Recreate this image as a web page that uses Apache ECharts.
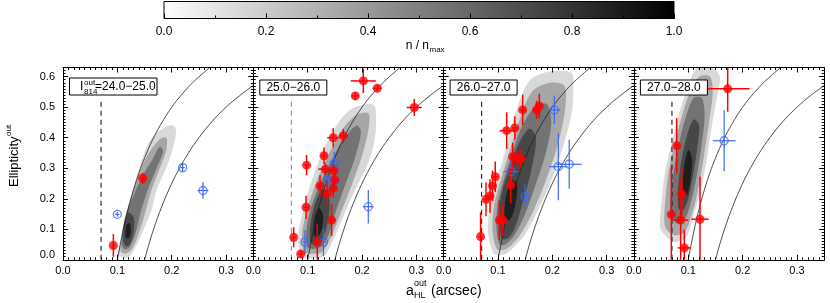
<!DOCTYPE html>
<html><head><meta charset="utf-8">
<script src="https://cdn.jsdelivr.net/npm/echarts@6/dist/echarts.min.js"></script>
<style>html,body{margin:0;padding:0;background:#fff}#c{width:830px;height:303px}</style>
</head><body><div id="c"></div>
<script>
// ---------------- data ----------------
const panelLabels = ['24.0\u221225.0', '25.0\u221226.0', '26.0\u221227.0', '27.0\u221228.0'];
const xTickLabels = ['0.0', '0.1', '0.2', '0.3'];
const yTickLabels = ['0.0', '0.1', '0.2', '0.3', '0.4', '0.5', '0.6'];
const colorbarTickLabels = ['0.0', '0.2', '0.4', '0.6', '0.8', '1.0'];

// red detections per panel: [a, e, a_err, e_err]
const red1 = [[0.0926,0.047,0.003,0.037],[0.1466,0.267,0.004,0.018]];
const red2 = [
  [0.2023,0.586,0.023,0.040],[0.228,0.562,0.008,0.010],[0.1876,0.537,0.006,0.012],
  [0.296,0.499,0.014,0.028],[0.147,0.400,0.011,0.031],[0.1655,0.406,0.008,0.023],
  [0.098,0.310,0.005,0.033],[0.130,0.341,0.005,0.027],[0.1325,0.297,0.013,0.020],
  [0.1484,0.292,0.006,0.020],[0.1227,0.242,0.005,0.035],[0.136,0.216,0.005,0.038],
  [0.147,0.234,0.006,0.030],[0.150,0.262,0.006,0.020],[0.097,0.172,0.005,0.038],
  [0.144,0.130,0.006,0.052],[0.0743,0.074,0.004,0.033],[0.1177,0.058,0.006,0.060],
  [0.0872,0.019,0.004,0.010]];
const red3 = [
  [0.176,0.504,0.005,0.040],[0.171,0.491,0.006,0.030],[0.1455,0.491,0.005,0.050],
  [0.116,0.423,0.013,0.060],[0.131,0.432,0.005,0.038],[0.127,0.338,0.005,0.045],
  [0.1356,0.331,0.005,0.030],[0.142,0.330,0.011,0.030],[0.095,0.272,0.005,0.050],
  [0.090,0.242,0.005,0.050],[0.0853,0.209,0.005,0.055],[0.078,0.198,0.005,0.055],
  [0.1234,0.245,0.005,0.060],[0.1025,0.130,0.005,0.065],[0.1087,0.130,0.010,0.050],
  [0.068,0.076,0.004,0.080]];
const red4 = [
  [0.1725,0.560,0.040,0.075],[0.0787,0.374,0.004,0.090],[0.088,0.216,0.008,0.085],
  [0.0688,0.148,0.004,0.150],[0.086,0.130,0.014,0.135],[0.1216,0.133,0.016,0.140],
  [0.0927,0.039,0.012,0.060]];

// blue (open circles) per panel: [a, e, a_err, e_err]
const blue1 = [[0.0999,0.149,0.004,0.008],[0.220,0.302,0.004,0.015],[0.2575,0.227,0.010,0.027]];
const blue2 = [
  [0.149,0.316,0.006,0.038],[0.137,0.262,0.008,0.015],[0.149,0.258,0.008,0.015],
  [0.2115,0.174,0.010,0.055],[0.095,0.058,0.004,0.040],[0.129,0.058,0.005,0.045]];
const blue3 = [
  [0.2036,0.491,0.011,0.047],[0.124,0.289,0.014,0.050],[0.1497,0.207,0.005,0.044],
  [0.211,0.305,0.017,0.110],[0.231,0.313,0.023,0.080]];
const blue4 = [[0.166,0.390,0.021,0.100]];

// size-limit curves (a, e)
const curveInner = [[0.100,0.000],[0.110,0.091],[0.120,0.167],[0.130,0.231],[0.140,0.286],[0.150,0.333],
  [0.165,0.394],[0.180,0.444],[0.200,0.500],[0.220,0.545],[0.240,0.583],[0.270,0.630]];
const curveOuter = [[0.150,0.000],[0.160,0.063],[0.170,0.118],[0.180,0.167],[0.195,0.231],[0.210,0.286],
  [0.230,0.348],[0.250,0.400],[0.275,0.455],[0.300,0.500],[0.325,0.538],[0.350,0.571]];

// completeness limit (vertical dashed line)
const limitA = 0.07;
const limitTop = 0.52;

// density contour levels (n/nmax) and their outlines per panel (a, e)
const densityLevels = [0.15, 0.35, 0.55, 0.72, 0.88];
const density1 = [
  [[0.102,0.016],[0.106,0.065],[0.112,0.13],[0.123,0.196],[0.132,0.251],[0.145,0.327],[0.157,0.382],[0.175,0.42],[0.2,0.442],[0.208,0.426],[0.203,0.371],[0.191,0.305],[0.172,0.229],[0.163,0.163],[0.148,0.098],[0.132,0.038],[0.12,0.008]],
  [[0.106,0.03],[0.109,0.08],[0.116,0.15],[0.128,0.22],[0.142,0.29],[0.158,0.35],[0.178,0.395],[0.19,0.4],[0.19,0.36],[0.178,0.3],[0.162,0.225],[0.152,0.16],[0.14,0.09],[0.127,0.035],[0.115,0.02]],
  [[0.108,0.05],[0.111,0.11],[0.12,0.17],[0.132,0.22],[0.148,0.28],[0.165,0.33],[0.178,0.37],[0.184,0.355],[0.172,0.3],[0.155,0.225],[0.142,0.15],[0.133,0.085],[0.122,0.04],[0.113,0.035]],
  [[0.111,0.06],[0.113,0.12],[0.12,0.155],[0.13,0.14],[0.13,0.09],[0.123,0.05],[0.116,0.045]],
  [[0.115,0.075],[0.117,0.115],[0.123,0.12],[0.125,0.09],[0.12,0.07]]];
const density2 = [
  [[0.086,0.016],[0.083,0.087],[0.092,0.164],[0.11,0.273],[0.135,0.382],[0.16,0.458],[0.184,0.497],[0.221,0.508],[0.226,0.458],[0.222,0.382],[0.2085,0.305],[0.184,0.218],[0.1655,0.141],[0.147,0.065],[0.129,0.01],[0.098,0.005]],
  [[0.092,0.03],[0.09,0.09],[0.1,0.17],[0.117,0.26],[0.14,0.35],[0.165,0.43],[0.19,0.475],[0.212,0.48],[0.212,0.43],[0.2,0.34],[0.18,0.24],[0.16,0.15],[0.142,0.07],[0.126,0.025],[0.105,0.02]],
  [[0.1,0.04],[0.098,0.1],[0.108,0.18],[0.123,0.25],[0.145,0.33],[0.168,0.4],[0.19,0.44],[0.198,0.42],[0.188,0.34],[0.17,0.25],[0.152,0.16],[0.138,0.08],[0.122,0.04]],
  [[0.106,0.055],[0.105,0.11],[0.113,0.18],[0.126,0.23],[0.138,0.22],[0.14,0.16],[0.132,0.09],[0.12,0.05]],
  [[0.112,0.08],[0.112,0.13],[0.12,0.17],[0.128,0.15],[0.126,0.1],[0.118,0.075]]];
const density3 = [
  [[0.0915,0.021],[0.082,0.087],[0.085,0.174],[0.098,0.262],[0.116,0.371],[0.134,0.491],[0.159,0.589],[0.196,0.617],[0.2355,0.611],[0.2386,0.557],[0.2355,0.48],[0.22,0.371],[0.196,0.251],[0.171,0.153],[0.147,0.076],[0.116,0.021],[0.1007,0.016]],
  [[0.098,0.035],[0.09,0.1],[0.093,0.18],[0.105,0.26],[0.122,0.36],[0.14,0.46],[0.162,0.55],[0.195,0.58],[0.222,0.57],[0.224,0.5],[0.212,0.39],[0.19,0.27],[0.165,0.16],[0.14,0.08],[0.115,0.035]],
  [[0.103,0.05],[0.097,0.11],[0.1,0.19],[0.112,0.27],[0.128,0.36],[0.145,0.44],[0.168,0.5],[0.19,0.51],[0.198,0.45],[0.188,0.35],[0.17,0.25],[0.15,0.15],[0.13,0.08],[0.113,0.05]],
  [[0.107,0.07],[0.102,0.14],[0.107,0.22],[0.121,0.3],[0.138,0.38],[0.158,0.43],[0.17,0.4],[0.162,0.3],[0.146,0.19],[0.13,0.1],[0.118,0.07]],
  [[0.113,0.13],[0.114,0.2],[0.125,0.26],[0.135,0.25],[0.132,0.18],[0.122,0.13]]];
const density4 = [
  [[0.048,0.109],[0.051,0.196],[0.057,0.284],[0.0695,0.382],[0.085,0.491],[0.1,0.568],[0.1155,0.628],[0.143,0.628],[0.158,0.6],[0.152,0.524],[0.143,0.436],[0.134,0.327],[0.1215,0.218],[0.109,0.141],[0.1,0.087],[0.091,0.065],[0.0725,0.059],[0.054,0.087]],
  [[0.056,0.12],[0.058,0.2],[0.064,0.29],[0.075,0.38],[0.09,0.48],[0.105,0.56],[0.12,0.6],[0.14,0.6],[0.145,0.55],[0.138,0.45],[0.128,0.33],[0.117,0.22],[0.105,0.14],[0.093,0.09],[0.075,0.08],[0.062,0.095]],
  [[0.068,0.15],[0.068,0.22],[0.074,0.3],[0.084,0.39],[0.096,0.47],[0.11,0.53],[0.125,0.53],[0.13,0.47],[0.124,0.37],[0.115,0.27],[0.105,0.19],[0.093,0.13],[0.078,0.12]],
  [[0.082,0.17],[0.082,0.25],[0.088,0.33],[0.098,0.41],[0.11,0.46],[0.12,0.44],[0.116,0.36],[0.108,0.27],[0.1,0.2],[0.09,0.16]],
  [[0.09,0.22],[0.092,0.3],[0.1,0.36],[0.107,0.33],[0.104,0.26],[0.097,0.21]]];

const colorbarRange = [0, 1];

// ---------------- layout / style ----------------
const FONT = "'Liberation Sans', Arial, Helvetica, sans-serif";
const PL = [63, 253.3, 443.6, 633.9], PW = 190.3, PT = 67.5, PH = 192.3;
const X_MIN = 0, X_MAX = 0.35, Y_MIN = 0, Y_MAX = 0.63;
const RED = '#ff0000', BLUE = '#3b68f2';
const reds = [red1, red2, red3, red4];
const blues = [blue1, blue2, blue3, blue4];
const densities = [density1, density2, density3, density4];

const isTenth = v => Math.abs(v * 10 - Math.round(v * 10)) < 1e-6;
const gray = lv => { const g = Math.round(255 * (1 - lv)); return `rgb(${g},${g},${g})`; };

const grids = PL.map(l => ({ left: l, top: PT, width: PW, height: PH }));
grids.push({ left: 164, top: 1.5, width: 510, height: 17 });

const xAxes = [], yAxes = [];
function axisCommon(major, len) {
  return {
    type: 'value', z: 5, splitLine: { show: false },
    axisLine: { show: major, onZero: false, lineStyle: { color: '#000', width: 1 } },
    axisTick: { show: true, inside: true, length: len, lineStyle: { color: '#000', width: 1 } }
  };
}
for (let p = 0; p < 4; p++) {
  [['bottom', true], ['bottom', false], ['top', true], ['top', false]].forEach(([pos, major]) => {
    const a = axisCommon(major, major ? 5 : 2.5);
    Object.assign(a, { gridIndex: p, position: pos, min: X_MIN, max: X_MAX, interval: major ? 0.1 : 0.01 });
    a.axisLabel = (pos === 'bottom' && major) ? {
      show: true, margin: 6, fontSize: 11, fontFamily: FONT, color: '#000',
      formatter: v => (isTenth(v) && v < 0.34) ? xTickLabels[Math.round(v * 10)] : ''
    } : { show: false };
    xAxes.push(a);
  });
  [['left', true], ['left', false], ['right', true], ['right', false]].forEach(([pos, major]) => {
    const a = axisCommon(major, major ? 5 : 2.5);
    Object.assign(a, { gridIndex: p, position: pos, min: Y_MIN, max: Y_MAX, interval: major ? 0.1 : 0.01 });
    a.axisLabel = (p === 0 && pos === 'left' && major) ? {
      show: true, margin: 8, fontSize: 11, fontFamily: FONT, color: '#000',
      formatter: v => {
        if (!(isTenth(v) && v < 0.61)) return '';
        const i = Math.round(v * 10);
        return i === 0 ? '{lo|' + yTickLabels[0] + '}' : yTickLabels[i];
      },
      rich: { lo: { fontSize: 11, fontFamily: FONT, color: '#000', padding: [0, 0, 9, 0] } }
    } : { show: false };
    yAxes.push(a);
  });
}
// colorbar axes
const cbX = xAxes.length;
xAxes.push(Object.assign(axisCommon(false, 5), { gridIndex: 4, position: 'bottom', min: 0, max: 1, interval: 0.2,
  axisLabel: { show: true, margin: 7, fontSize: 12, fontFamily: FONT, color: '#000',
    formatter: v => colorbarTickLabels[Math.round(v * 5)] } }));
xAxes.push(Object.assign(axisCommon(false, 3), { gridIndex: 4, position: 'bottom', min: 0, max: 1, interval: 0.1,
  axisLabel: { show: false } }));
const cbY = yAxes.length;
yAxes.push({ type: 'value', gridIndex: 4, min: 0, max: 1, show: false });

const series = [];
for (let p = 0; p < 4; p++) {
  const xi = p * 4, yi = p * 4;
  const dens = densities[p];
  series.push({
    type: 'custom', xAxisIndex: xi, yAxisIndex: yi, z: 1, silent: true,
    data: dens.map((poly, i) => [poly[0][0], poly[0][1], i]),
    renderItem: (params, api) => {
      const poly = dens[params.dataIndex];
      return { type: 'polygon', shape: { points: poly.map(pt => api.coord(pt)), smooth: 0.3 },
        style: { fill: gray(densityLevels[params.dataIndex]) } };
    }
  });
  [curveInner, curveOuter].forEach(c => series.push({
    type: 'line', xAxisIndex: xi, yAxisIndex: yi, z: 2, silent: true, data: c, smooth: 0.4,
    symbol: 'none', lineStyle: { color: '#222', width: 0.8 }
  }));
  series.push({
    type: 'line', xAxisIndex: xi, yAxisIndex: yi, z: 2, silent: true,
    data: [[limitA, 0], [limitA, limitTop]], symbol: 'none',
    lineStyle: { color: p === 1 ? '#888' : '#000', width: 1, type: [5, 4] }
  });
  const errBars = (pts, color, w) => ({
    type: 'custom', xAxisIndex: xi, yAxisIndex: yi, z: 3, silent: true, data: pts,
    renderItem: (params, api) => {
      const x = api.value(0), y = api.value(1), xe = api.value(2), ye = api.value(3);
      const h0 = api.coord([Math.max(X_MIN, x - xe), y]), h1 = api.coord([Math.min(X_MAX, x + xe), y]);
      const v0 = api.coord([x, Math.max(Y_MIN, y - ye)]), v1 = api.coord([x, Math.min(Y_MAX, y + ye)]);
      return { type: 'group', children: [
        { type: 'line', shape: { x1: h0[0], y1: h0[1], x2: h1[0], y2: h1[1] }, style: { stroke: color, lineWidth: w } },
        { type: 'line', shape: { x1: v0[0], y1: v0[1], x2: v1[0], y2: v1[1] }, style: { stroke: color, lineWidth: w } }
      ] };
    }
  });
  series.push(errBars(blues[p], BLUE, 1.2));
  series.push({
    type: 'scatter', xAxisIndex: xi, yAxisIndex: yi, z: 4, silent: true,
    data: blues[p].map(d => [d[0], d[1]]), symbol: 'circle', symbolSize: 8,
    itemStyle: { color: 'rgba(0,0,0,0)', borderColor: BLUE, borderWidth: 1.3 }
  });
  series.push(errBars(reds[p], RED, 1.5));
  series.push({
    type: 'scatter', xAxisIndex: xi, yAxisIndex: yi, z: 4, silent: true,
    data: reds[p].map(d => [d[0], d[1]]), symbol: 'circle', symbolSize: 9,
    itemStyle: { color: RED }
  });
}
// colorbar
series.push({
  type: 'custom', xAxisIndex: cbX, yAxisIndex: cbY, z: 1, silent: true,
  data: [[colorbarRange[0], colorbarRange[1]]],
  renderItem: (params, api) => {
    const p0 = api.coord([colorbarRange[0], 1]), p1 = api.coord([colorbarRange[1], 0]);
    return { type: 'rect', shape: { x: p0[0], y: p0[1], width: p1[0] - p0[0], height: p1[1] - p0[1] },
      style: { fill: new echarts.graphic.LinearGradient(0, 0, 1, 0, [{ offset: 0, color: '#fff' }, { offset: 1, color: '#000' }]),
        stroke: '#000', lineWidth: 1 } };
  }
});

// ---------------- text / label boxes ----------------
const txt = (x, y, text, size, align, extra) => Object.assign({
  type: 'text', x, y, z: 20, silent: true,
  style: { text, fontSize: size, fontFamily: FONT, fill: '#000', align: align || 'left', verticalAlign: 'middle' }
}, extra || {});
const graphics = [];
// panel 1 label box
graphics.push({ type: 'rect', z: 19, silent: true, shape: { x: 69.5, y: 78, width: 87.5, height: 17 },
  style: { fill: '#fff', stroke: '#000', lineWidth: 1 } });
graphics.push(txt(80, 87, 'I', 12));
graphics.push(txt(84, 83, 'out', 8));
graphics.push(txt(84, 91.5, '814', 8));
graphics.push(txt(95, 87, '=' + panelLabels[0], 12));
for (let p = 1; p < 4; p++) {
  graphics.push({ type: 'rect', z: 19, silent: true, shape: { x: PL[p] + 6.5, y: 80, width: 67, height: 15 },
    style: { fill: '#fff', stroke: '#000', lineWidth: 1 } });
  graphics.push(txt(PL[p] + 40, 87.5, panelLabels[p], 12, 'center'));
}
// y title
graphics.push({ type: 'group', x: 14, y: 157, rotation: Math.PI / 2, z: 20, children: [
  txt(-30, 0, 'Ellipticity', 13),
  txt(21, -5, 'out', 8)
] });
// x title
graphics.push(txt(406, 291, 'a', 14));
graphics.push(txt(414, 283.5, 'out', 9));
graphics.push(txt(414, 295.5, 'HL', 9));
graphics.push(txt(431, 291, '(arcsec)', 14));
// colorbar title
graphics.push(txt(429, 46, 'n / n', 12, 'right'));
graphics.push(txt(429.5, 49.5, 'max', 8));

const chart = echarts.init(document.getElementById('c'), null, { renderer: 'canvas' });
chart.setOption({
  animation: false,
  backgroundColor: '#fff',
  grid: grids,
  xAxis: xAxes,
  yAxis: yAxes,
  series,
  graphic: graphics
});
</script>
</body></html>
